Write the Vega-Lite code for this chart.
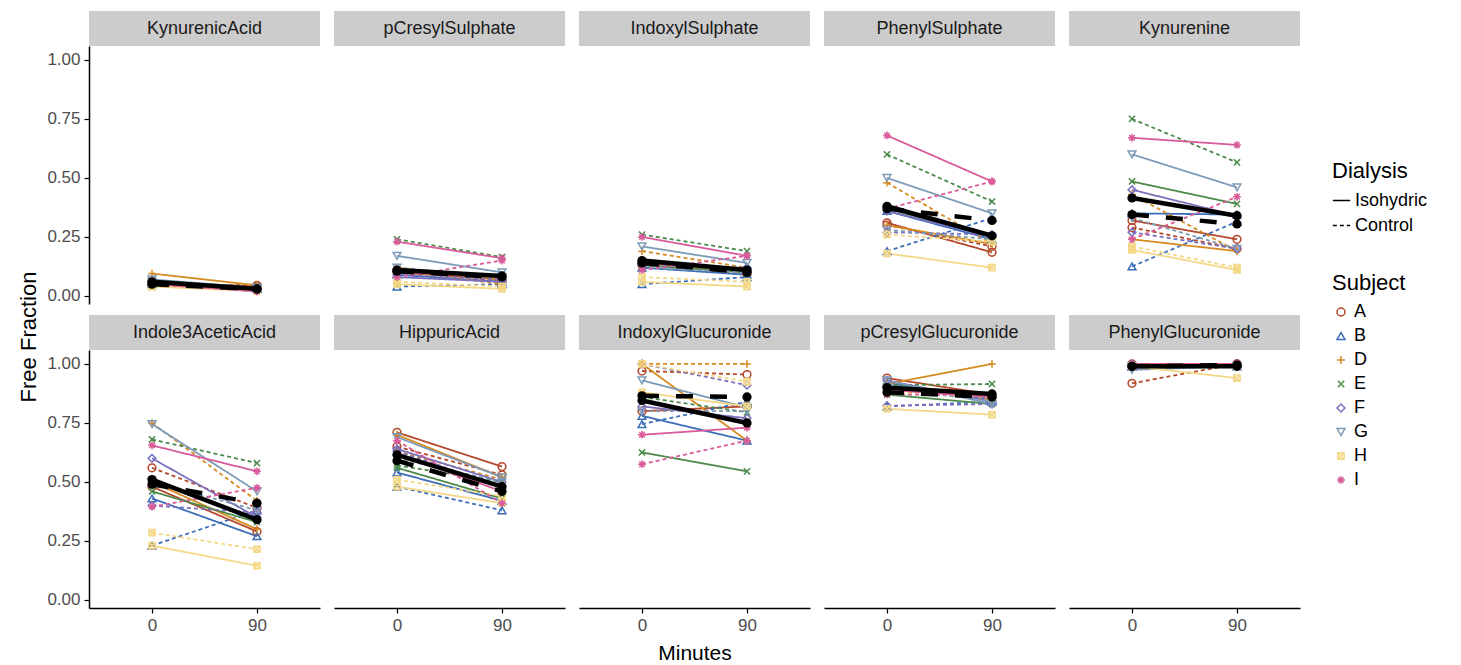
{
"$schema":"https://vega.github.io/schema/vega-lite/v6.json",
"padding":{"left":17,"top":11,"right":5,"bottom":5},
"background":"white",
"title":{"text":"Free Fraction","orient":"left","anchor":"middle","fontSize":22,"fontWeight":"normal","font":"Liberation Sans","color":"black","offset":6},
"config":{
 "view":{"stroke":null},
 "font":"Liberation Sans",
 "axis":{"grid":false,"domainColor":"black","domainWidth":1.5,"tickColor":"black","tickWidth":1.2,"tickSize":5,"labelFontSize":17,"labelColor":"#4d4d4d","labelFont":"Liberation Sans","titleFont":"Liberation Sans","titleFontSize":21,"titleFontWeight":"normal","titleColor":"black","labelPadding":4},
 "axisX":{"labelAngle":0,"titlePadding":9},
 "legend":{"titleFontSize":22,"titleFontWeight":"normal","titleFont":"Liberation Sans","labelFont":"Liberation Sans","labelFontSize":18,"labelColor":"black","titleColor":"black","rowPadding":6,"titlePadding":8}
},
"datasets":{
"names":[{"metab":"KynurenicAcid"},{"metab":"pCresylSulphate"},{"metab":"IndoxylSulphate"},{"metab":"PhenylSulphate"},{"metab":"Kynurenine"},{"metab":"Indole3AceticAcid"},{"metab":"HippuricAcid"},{"metab":"IndoxylGlucuronide"},{"metab":"pCresylGlucuronide"},{"metab":"PhenylGlucuronide"}],
"means":[
{"metab":"KynurenicAcid","dialysis":"Isohydric","minutes":0,"ff":0.06},{"metab":"KynurenicAcid","dialysis":"Isohydric","minutes":90,"ff":0.03},{"metab":"KynurenicAcid","dialysis":"Control","minutes":0,"ff":0.05},{"metab":"KynurenicAcid","dialysis":"Control","minutes":90,"ff":0.03},
{"metab":"pCresylSulphate","dialysis":"Isohydric","minutes":0,"ff":0.11},{"metab":"pCresylSulphate","dialysis":"Isohydric","minutes":90,"ff":0.085},{"metab":"pCresylSulphate","dialysis":"Control","minutes":0,"ff":0.105},{"metab":"pCresylSulphate","dialysis":"Control","minutes":90,"ff":0.08},
{"metab":"IndoxylSulphate","dialysis":"Isohydric","minutes":0,"ff":0.15},{"metab":"IndoxylSulphate","dialysis":"Isohydric","minutes":90,"ff":0.11},{"metab":"IndoxylSulphate","dialysis":"Control","minutes":0,"ff":0.14},{"metab":"IndoxylSulphate","dialysis":"Control","minutes":90,"ff":0.10},
{"metab":"PhenylSulphate","dialysis":"Isohydric","minutes":0,"ff":0.38},{"metab":"PhenylSulphate","dialysis":"Isohydric","minutes":90,"ff":0.255},{"metab":"PhenylSulphate","dialysis":"Control","minutes":0,"ff":0.37},{"metab":"PhenylSulphate","dialysis":"Control","minutes":90,"ff":0.32},
{"metab":"Kynurenine","dialysis":"Isohydric","minutes":0,"ff":0.415},{"metab":"Kynurenine","dialysis":"Isohydric","minutes":90,"ff":0.34},{"metab":"Kynurenine","dialysis":"Control","minutes":0,"ff":0.345},{"metab":"Kynurenine","dialysis":"Control","minutes":90,"ff":0.305},
{"metab":"Indole3AceticAcid","dialysis":"Isohydric","minutes":0,"ff":0.51},{"metab":"Indole3AceticAcid","dialysis":"Isohydric","minutes":90,"ff":0.34},{"metab":"Indole3AceticAcid","dialysis":"Control","minutes":0,"ff":0.49},{"metab":"Indole3AceticAcid","dialysis":"Control","minutes":90,"ff":0.41},
{"metab":"HippuricAcid","dialysis":"Isohydric","minutes":0,"ff":0.615},{"metab":"HippuricAcid","dialysis":"Isohydric","minutes":90,"ff":0.48},{"metab":"HippuricAcid","dialysis":"Control","minutes":0,"ff":0.59},{"metab":"HippuricAcid","dialysis":"Control","minutes":90,"ff":0.46},
{"metab":"IndoxylGlucuronide","dialysis":"Isohydric","minutes":0,"ff":0.845},{"metab":"IndoxylGlucuronide","dialysis":"Isohydric","minutes":90,"ff":0.75},{"metab":"IndoxylGlucuronide","dialysis":"Control","minutes":0,"ff":0.865},{"metab":"IndoxylGlucuronide","dialysis":"Control","minutes":90,"ff":0.86},
{"metab":"pCresylGlucuronide","dialysis":"Isohydric","minutes":0,"ff":0.90},{"metab":"pCresylGlucuronide","dialysis":"Isohydric","minutes":90,"ff":0.873},{"metab":"pCresylGlucuronide","dialysis":"Control","minutes":0,"ff":0.88},{"metab":"pCresylGlucuronide","dialysis":"Control","minutes":90,"ff":0.86},
{"metab":"PhenylGlucuronide","dialysis":"Isohydric","minutes":0,"ff":0.99},{"metab":"PhenylGlucuronide","dialysis":"Isohydric","minutes":90,"ff":0.99},{"metab":"PhenylGlucuronide","dialysis":"Control","minutes":0,"ff":0.99},{"metab":"PhenylGlucuronide","dialysis":"Control","minutes":90,"ff":0.995}
],
"subj":[
{"metab":"KynurenicAcid","subject":"A","dialysis":"Isohydric","minutes":0,"ff":0.06},{"metab":"KynurenicAcid","subject":"A","dialysis":"Isohydric","minutes":90,"ff":0.04},{"metab":"KynurenicAcid","subject":"A","dialysis":"Control","minutes":0,"ff":0.05},{"metab":"KynurenicAcid","subject":"A","dialysis":"Control","minutes":90,"ff":0.045},
{"metab":"KynurenicAcid","subject":"B","dialysis":"Isohydric","minutes":0,"ff":0.05},{"metab":"KynurenicAcid","subject":"B","dialysis":"Isohydric","minutes":90,"ff":0.03},{"metab":"KynurenicAcid","subject":"B","dialysis":"Control","minutes":0,"ff":0.06},{"metab":"KynurenicAcid","subject":"B","dialysis":"Control","minutes":90,"ff":0.03},
{"metab":"KynurenicAcid","subject":"D","dialysis":"Isohydric","minutes":0,"ff":0.095},{"metab":"KynurenicAcid","subject":"D","dialysis":"Isohydric","minutes":90,"ff":0.045},{"metab":"KynurenicAcid","subject":"D","dialysis":"Control","minutes":0,"ff":0.05},{"metab":"KynurenicAcid","subject":"D","dialysis":"Control","minutes":90,"ff":0.03},
{"metab":"KynurenicAcid","subject":"E","dialysis":"Isohydric","minutes":0,"ff":0.06},{"metab":"KynurenicAcid","subject":"E","dialysis":"Isohydric","minutes":90,"ff":0.03},{"metab":"KynurenicAcid","subject":"E","dialysis":"Control","minutes":0,"ff":0.05},{"metab":"KynurenicAcid","subject":"E","dialysis":"Control","minutes":90,"ff":0.03},
{"metab":"KynurenicAcid","subject":"F","dialysis":"Isohydric","minutes":0,"ff":0.06},{"metab":"KynurenicAcid","subject":"F","dialysis":"Isohydric","minutes":90,"ff":0.03},{"metab":"KynurenicAcid","subject":"F","dialysis":"Control","minutes":0,"ff":0.05},{"metab":"KynurenicAcid","subject":"F","dialysis":"Control","minutes":90,"ff":0.03},
{"metab":"KynurenicAcid","subject":"G","dialysis":"Isohydric","minutes":0,"ff":0.07},{"metab":"KynurenicAcid","subject":"G","dialysis":"Isohydric","minutes":90,"ff":0.035},{"metab":"KynurenicAcid","subject":"G","dialysis":"Control","minutes":0,"ff":0.06},{"metab":"KynurenicAcid","subject":"G","dialysis":"Control","minutes":90,"ff":0.03},
{"metab":"KynurenicAcid","subject":"H","dialysis":"Isohydric","minutes":0,"ff":0.04},{"metab":"KynurenicAcid","subject":"H","dialysis":"Isohydric","minutes":90,"ff":0.02},{"metab":"KynurenicAcid","subject":"H","dialysis":"Control","minutes":0,"ff":0.04},{"metab":"KynurenicAcid","subject":"H","dialysis":"Control","minutes":90,"ff":0.025},
{"metab":"KynurenicAcid","subject":"I","dialysis":"Isohydric","minutes":0,"ff":0.05},{"metab":"KynurenicAcid","subject":"I","dialysis":"Isohydric","minutes":90,"ff":0.02},{"metab":"KynurenicAcid","subject":"I","dialysis":"Control","minutes":0,"ff":0.05},{"metab":"KynurenicAcid","subject":"I","dialysis":"Control","minutes":90,"ff":0.02},

{"metab":"pCresylSulphate","subject":"A","dialysis":"Isohydric","minutes":0,"ff":0.10},{"metab":"pCresylSulphate","subject":"A","dialysis":"Isohydric","minutes":90,"ff":0.07},{"metab":"pCresylSulphate","subject":"A","dialysis":"Control","minutes":0,"ff":0.11},{"metab":"pCresylSulphate","subject":"A","dialysis":"Control","minutes":90,"ff":0.06},
{"metab":"pCresylSulphate","subject":"B","dialysis":"Isohydric","minutes":0,"ff":0.09},{"metab":"pCresylSulphate","subject":"B","dialysis":"Isohydric","minutes":90,"ff":0.06},{"metab":"pCresylSulphate","subject":"B","dialysis":"Control","minutes":0,"ff":0.04},{"metab":"pCresylSulphate","subject":"B","dialysis":"Control","minutes":90,"ff":0.05},
{"metab":"pCresylSulphate","subject":"D","dialysis":"Isohydric","minutes":0,"ff":0.12},{"metab":"pCresylSulphate","subject":"D","dialysis":"Isohydric","minutes":90,"ff":0.07},{"metab":"pCresylSulphate","subject":"D","dialysis":"Control","minutes":0,"ff":0.11},{"metab":"pCresylSulphate","subject":"D","dialysis":"Control","minutes":90,"ff":0.05},
{"metab":"pCresylSulphate","subject":"E","dialysis":"Isohydric","minutes":0,"ff":0.11},{"metab":"pCresylSulphate","subject":"E","dialysis":"Isohydric","minutes":90,"ff":0.08},{"metab":"pCresylSulphate","subject":"E","dialysis":"Control","minutes":0,"ff":0.24},{"metab":"pCresylSulphate","subject":"E","dialysis":"Control","minutes":90,"ff":0.165},
{"metab":"pCresylSulphate","subject":"F","dialysis":"Isohydric","minutes":0,"ff":0.08},{"metab":"pCresylSulphate","subject":"F","dialysis":"Isohydric","minutes":90,"ff":0.06},{"metab":"pCresylSulphate","subject":"F","dialysis":"Control","minutes":0,"ff":0.09},{"metab":"pCresylSulphate","subject":"F","dialysis":"Control","minutes":90,"ff":0.07},
{"metab":"pCresylSulphate","subject":"G","dialysis":"Isohydric","minutes":0,"ff":0.17},{"metab":"pCresylSulphate","subject":"G","dialysis":"Isohydric","minutes":90,"ff":0.10},{"metab":"pCresylSulphate","subject":"G","dialysis":"Control","minutes":0,"ff":0.12},{"metab":"pCresylSulphate","subject":"G","dialysis":"Control","minutes":90,"ff":0.08},
{"metab":"pCresylSulphate","subject":"H","dialysis":"Isohydric","minutes":0,"ff":0.05},{"metab":"pCresylSulphate","subject":"H","dialysis":"Isohydric","minutes":90,"ff":0.03},{"metab":"pCresylSulphate","subject":"H","dialysis":"Control","minutes":0,"ff":0.06},{"metab":"pCresylSulphate","subject":"H","dialysis":"Control","minutes":90,"ff":0.04},
{"metab":"pCresylSulphate","subject":"I","dialysis":"Isohydric","minutes":0,"ff":0.23},{"metab":"pCresylSulphate","subject":"I","dialysis":"Isohydric","minutes":90,"ff":0.16},{"metab":"pCresylSulphate","subject":"I","dialysis":"Control","minutes":0,"ff":0.08},{"metab":"pCresylSulphate","subject":"I","dialysis":"Control","minutes":90,"ff":0.15},

{"metab":"IndoxylSulphate","subject":"A","dialysis":"Isohydric","minutes":0,"ff":0.14},{"metab":"IndoxylSulphate","subject":"A","dialysis":"Isohydric","minutes":90,"ff":0.10},{"metab":"IndoxylSulphate","subject":"A","dialysis":"Control","minutes":0,"ff":0.13},{"metab":"IndoxylSulphate","subject":"A","dialysis":"Control","minutes":90,"ff":0.09},
{"metab":"IndoxylSulphate","subject":"B","dialysis":"Isohydric","minutes":0,"ff":0.12},{"metab":"IndoxylSulphate","subject":"B","dialysis":"Isohydric","minutes":90,"ff":0.09},{"metab":"IndoxylSulphate","subject":"B","dialysis":"Control","minutes":0,"ff":0.05},{"metab":"IndoxylSulphate","subject":"B","dialysis":"Control","minutes":90,"ff":0.08},
{"metab":"IndoxylSulphate","subject":"D","dialysis":"Isohydric","minutes":0,"ff":0.15},{"metab":"IndoxylSulphate","subject":"D","dialysis":"Isohydric","minutes":90,"ff":0.10},{"metab":"IndoxylSulphate","subject":"D","dialysis":"Control","minutes":0,"ff":0.19},{"metab":"IndoxylSulphate","subject":"D","dialysis":"Control","minutes":90,"ff":0.12},
{"metab":"IndoxylSulphate","subject":"E","dialysis":"Isohydric","minutes":0,"ff":0.13},{"metab":"IndoxylSulphate","subject":"E","dialysis":"Isohydric","minutes":90,"ff":0.10},{"metab":"IndoxylSulphate","subject":"E","dialysis":"Control","minutes":0,"ff":0.26},{"metab":"IndoxylSulphate","subject":"E","dialysis":"Control","minutes":90,"ff":0.19},
{"metab":"IndoxylSulphate","subject":"F","dialysis":"Isohydric","minutes":0,"ff":0.15},{"metab":"IndoxylSulphate","subject":"F","dialysis":"Isohydric","minutes":90,"ff":0.11},{"metab":"IndoxylSulphate","subject":"F","dialysis":"Control","minutes":0,"ff":0.13},{"metab":"IndoxylSulphate","subject":"F","dialysis":"Control","minutes":90,"ff":0.12},
{"metab":"IndoxylSulphate","subject":"G","dialysis":"Isohydric","minutes":0,"ff":0.21},{"metab":"IndoxylSulphate","subject":"G","dialysis":"Isohydric","minutes":90,"ff":0.14},{"metab":"IndoxylSulphate","subject":"G","dialysis":"Control","minutes":0,"ff":0.12},{"metab":"IndoxylSulphate","subject":"G","dialysis":"Control","minutes":90,"ff":0.10},
{"metab":"IndoxylSulphate","subject":"H","dialysis":"Isohydric","minutes":0,"ff":0.06},{"metab":"IndoxylSulphate","subject":"H","dialysis":"Isohydric","minutes":90,"ff":0.04},{"metab":"IndoxylSulphate","subject":"H","dialysis":"Control","minutes":0,"ff":0.08},{"metab":"IndoxylSulphate","subject":"H","dialysis":"Control","minutes":90,"ff":0.06},
{"metab":"IndoxylSulphate","subject":"I","dialysis":"Isohydric","minutes":0,"ff":0.25},{"metab":"IndoxylSulphate","subject":"I","dialysis":"Isohydric","minutes":90,"ff":0.17},{"metab":"IndoxylSulphate","subject":"I","dialysis":"Control","minutes":0,"ff":0.11},{"metab":"IndoxylSulphate","subject":"I","dialysis":"Control","minutes":90,"ff":0.17},

{"metab":"PhenylSulphate","subject":"A","dialysis":"Isohydric","minutes":0,"ff":0.31},{"metab":"PhenylSulphate","subject":"A","dialysis":"Isohydric","minutes":90,"ff":0.185},{"metab":"PhenylSulphate","subject":"A","dialysis":"Control","minutes":0,"ff":0.30},{"metab":"PhenylSulphate","subject":"A","dialysis":"Control","minutes":90,"ff":0.21},
{"metab":"PhenylSulphate","subject":"B","dialysis":"Isohydric","minutes":0,"ff":0.36},{"metab":"PhenylSulphate","subject":"B","dialysis":"Isohydric","minutes":90,"ff":0.24},{"metab":"PhenylSulphate","subject":"B","dialysis":"Control","minutes":0,"ff":0.19},{"metab":"PhenylSulphate","subject":"B","dialysis":"Control","minutes":90,"ff":0.33},
{"metab":"PhenylSulphate","subject":"D","dialysis":"Isohydric","minutes":0,"ff":0.30},{"metab":"PhenylSulphate","subject":"D","dialysis":"Isohydric","minutes":90,"ff":0.22},{"metab":"PhenylSulphate","subject":"D","dialysis":"Control","minutes":0,"ff":0.48},{"metab":"PhenylSulphate","subject":"D","dialysis":"Control","minutes":90,"ff":0.22},
{"metab":"PhenylSulphate","subject":"E","dialysis":"Isohydric","minutes":0,"ff":0.37},{"metab":"PhenylSulphate","subject":"E","dialysis":"Isohydric","minutes":90,"ff":0.25},{"metab":"PhenylSulphate","subject":"E","dialysis":"Control","minutes":0,"ff":0.60},{"metab":"PhenylSulphate","subject":"E","dialysis":"Control","minutes":90,"ff":0.40},
{"metab":"PhenylSulphate","subject":"F","dialysis":"Isohydric","minutes":0,"ff":0.36},{"metab":"PhenylSulphate","subject":"F","dialysis":"Isohydric","minutes":90,"ff":0.25},{"metab":"PhenylSulphate","subject":"F","dialysis":"Control","minutes":0,"ff":0.27},{"metab":"PhenylSulphate","subject":"F","dialysis":"Control","minutes":90,"ff":0.26},
{"metab":"PhenylSulphate","subject":"G","dialysis":"Isohydric","minutes":0,"ff":0.50},{"metab":"PhenylSulphate","subject":"G","dialysis":"Isohydric","minutes":90,"ff":0.35},{"metab":"PhenylSulphate","subject":"G","dialysis":"Control","minutes":0,"ff":0.28},{"metab":"PhenylSulphate","subject":"G","dialysis":"Control","minutes":90,"ff":0.24},
{"metab":"PhenylSulphate","subject":"H","dialysis":"Isohydric","minutes":0,"ff":0.18},{"metab":"PhenylSulphate","subject":"H","dialysis":"Isohydric","minutes":90,"ff":0.12},{"metab":"PhenylSulphate","subject":"H","dialysis":"Control","minutes":0,"ff":0.26},{"metab":"PhenylSulphate","subject":"H","dialysis":"Control","minutes":90,"ff":0.23},
{"metab":"PhenylSulphate","subject":"I","dialysis":"Isohydric","minutes":0,"ff":0.68},{"metab":"PhenylSulphate","subject":"I","dialysis":"Isohydric","minutes":90,"ff":0.485},{"metab":"PhenylSulphate","subject":"I","dialysis":"Control","minutes":0,"ff":0.37},{"metab":"PhenylSulphate","subject":"I","dialysis":"Control","minutes":90,"ff":0.485},

{"metab":"Kynurenine","subject":"A","dialysis":"Isohydric","minutes":0,"ff":0.32},{"metab":"Kynurenine","subject":"A","dialysis":"Isohydric","minutes":90,"ff":0.24},{"metab":"Kynurenine","subject":"A","dialysis":"Control","minutes":0,"ff":0.29},{"metab":"Kynurenine","subject":"A","dialysis":"Control","minutes":90,"ff":0.20},
{"metab":"Kynurenine","subject":"B","dialysis":"Isohydric","minutes":0,"ff":0.35},{"metab":"Kynurenine","subject":"B","dialysis":"Isohydric","minutes":90,"ff":0.345},{"metab":"Kynurenine","subject":"B","dialysis":"Control","minutes":0,"ff":0.125},{"metab":"Kynurenine","subject":"B","dialysis":"Control","minutes":90,"ff":0.315},
{"metab":"Kynurenine","subject":"D","dialysis":"Isohydric","minutes":0,"ff":0.24},{"metab":"Kynurenine","subject":"D","dialysis":"Isohydric","minutes":90,"ff":0.19},{"metab":"Kynurenine","subject":"D","dialysis":"Control","minutes":0,"ff":0.43},{"metab":"Kynurenine","subject":"D","dialysis":"Control","minutes":90,"ff":0.19},
{"metab":"Kynurenine","subject":"E","dialysis":"Isohydric","minutes":0,"ff":0.485},{"metab":"Kynurenine","subject":"E","dialysis":"Isohydric","minutes":90,"ff":0.39},{"metab":"Kynurenine","subject":"E","dialysis":"Control","minutes":0,"ff":0.75},{"metab":"Kynurenine","subject":"E","dialysis":"Control","minutes":90,"ff":0.566},
{"metab":"Kynurenine","subject":"F","dialysis":"Isohydric","minutes":0,"ff":0.45},{"metab":"Kynurenine","subject":"F","dialysis":"Isohydric","minutes":90,"ff":0.34},{"metab":"Kynurenine","subject":"F","dialysis":"Control","minutes":0,"ff":0.27},{"metab":"Kynurenine","subject":"F","dialysis":"Control","minutes":90,"ff":0.20},
{"metab":"Kynurenine","subject":"G","dialysis":"Isohydric","minutes":0,"ff":0.60},{"metab":"Kynurenine","subject":"G","dialysis":"Isohydric","minutes":90,"ff":0.46},{"metab":"Kynurenine","subject":"G","dialysis":"Control","minutes":0,"ff":0.33},{"metab":"Kynurenine","subject":"G","dialysis":"Control","minutes":90,"ff":0.20},
{"metab":"Kynurenine","subject":"H","dialysis":"Isohydric","minutes":0,"ff":0.195},{"metab":"Kynurenine","subject":"H","dialysis":"Isohydric","minutes":90,"ff":0.11},{"metab":"Kynurenine","subject":"H","dialysis":"Control","minutes":0,"ff":0.21},{"metab":"Kynurenine","subject":"H","dialysis":"Control","minutes":90,"ff":0.12},
{"metab":"Kynurenine","subject":"I","dialysis":"Isohydric","minutes":0,"ff":0.67},{"metab":"Kynurenine","subject":"I","dialysis":"Isohydric","minutes":90,"ff":0.64},{"metab":"Kynurenine","subject":"I","dialysis":"Control","minutes":0,"ff":0.24},{"metab":"Kynurenine","subject":"I","dialysis":"Control","minutes":90,"ff":0.42},

{"metab":"Indole3AceticAcid","subject":"A","dialysis":"Isohydric","minutes":0,"ff":0.48},{"metab":"Indole3AceticAcid","subject":"A","dialysis":"Isohydric","minutes":90,"ff":0.29},{"metab":"Indole3AceticAcid","subject":"A","dialysis":"Control","minutes":0,"ff":0.56},{"metab":"Indole3AceticAcid","subject":"A","dialysis":"Control","minutes":90,"ff":0.39},
{"metab":"Indole3AceticAcid","subject":"B","dialysis":"Isohydric","minutes":0,"ff":0.43},{"metab":"Indole3AceticAcid","subject":"B","dialysis":"Isohydric","minutes":90,"ff":0.27},{"metab":"Indole3AceticAcid","subject":"B","dialysis":"Control","minutes":0,"ff":0.23},{"metab":"Indole3AceticAcid","subject":"B","dialysis":"Control","minutes":90,"ff":0.38},
{"metab":"Indole3AceticAcid","subject":"D","dialysis":"Isohydric","minutes":0,"ff":0.50},{"metab":"Indole3AceticAcid","subject":"D","dialysis":"Isohydric","minutes":90,"ff":0.30},{"metab":"Indole3AceticAcid","subject":"D","dialysis":"Control","minutes":0,"ff":0.75},{"metab":"Indole3AceticAcid","subject":"D","dialysis":"Control","minutes":90,"ff":0.42},
{"metab":"Indole3AceticAcid","subject":"E","dialysis":"Isohydric","minutes":0,"ff":0.46},{"metab":"Indole3AceticAcid","subject":"E","dialysis":"Isohydric","minutes":90,"ff":0.33},{"metab":"Indole3AceticAcid","subject":"E","dialysis":"Control","minutes":0,"ff":0.68},{"metab":"Indole3AceticAcid","subject":"E","dialysis":"Control","minutes":90,"ff":0.58},
{"metab":"Indole3AceticAcid","subject":"F","dialysis":"Isohydric","minutes":0,"ff":0.60},{"metab":"Indole3AceticAcid","subject":"F","dialysis":"Isohydric","minutes":90,"ff":0.35},{"metab":"Indole3AceticAcid","subject":"F","dialysis":"Control","minutes":0,"ff":0.40},{"metab":"Indole3AceticAcid","subject":"F","dialysis":"Control","minutes":90,"ff":0.37},
{"metab":"Indole3AceticAcid","subject":"G","dialysis":"Isohydric","minutes":0,"ff":0.745},{"metab":"Indole3AceticAcid","subject":"G","dialysis":"Isohydric","minutes":90,"ff":0.46},{"metab":"Indole3AceticAcid","subject":"G","dialysis":"Control","minutes":0,"ff":0.50},{"metab":"Indole3AceticAcid","subject":"G","dialysis":"Control","minutes":90,"ff":0.38},
{"metab":"Indole3AceticAcid","subject":"H","dialysis":"Isohydric","minutes":0,"ff":0.23},{"metab":"Indole3AceticAcid","subject":"H","dialysis":"Isohydric","minutes":90,"ff":0.145},{"metab":"Indole3AceticAcid","subject":"H","dialysis":"Control","minutes":0,"ff":0.285},{"metab":"Indole3AceticAcid","subject":"H","dialysis":"Control","minutes":90,"ff":0.215},
{"metab":"Indole3AceticAcid","subject":"I","dialysis":"Isohydric","minutes":0,"ff":0.655},{"metab":"Indole3AceticAcid","subject":"I","dialysis":"Isohydric","minutes":90,"ff":0.545},{"metab":"Indole3AceticAcid","subject":"I","dialysis":"Control","minutes":0,"ff":0.395},{"metab":"Indole3AceticAcid","subject":"I","dialysis":"Control","minutes":90,"ff":0.475},

{"metab":"HippuricAcid","subject":"A","dialysis":"Isohydric","minutes":0,"ff":0.71},{"metab":"HippuricAcid","subject":"A","dialysis":"Isohydric","minutes":90,"ff":0.565},{"metab":"HippuricAcid","subject":"A","dialysis":"Control","minutes":0,"ff":0.65},{"metab":"HippuricAcid","subject":"A","dialysis":"Control","minutes":90,"ff":0.53},
{"metab":"HippuricAcid","subject":"B","dialysis":"Isohydric","minutes":0,"ff":0.54},{"metab":"HippuricAcid","subject":"B","dialysis":"Isohydric","minutes":90,"ff":0.42},{"metab":"HippuricAcid","subject":"B","dialysis":"Control","minutes":0,"ff":0.48},{"metab":"HippuricAcid","subject":"B","dialysis":"Control","minutes":90,"ff":0.38},
{"metab":"HippuricAcid","subject":"D","dialysis":"Isohydric","minutes":0,"ff":0.70},{"metab":"HippuricAcid","subject":"D","dialysis":"Isohydric","minutes":90,"ff":0.52},{"metab":"HippuricAcid","subject":"D","dialysis":"Control","minutes":0,"ff":0.63},{"metab":"HippuricAcid","subject":"D","dialysis":"Control","minutes":90,"ff":0.51},
{"metab":"HippuricAcid","subject":"E","dialysis":"Isohydric","minutes":0,"ff":0.56},{"metab":"HippuricAcid","subject":"E","dialysis":"Isohydric","minutes":90,"ff":0.43},{"metab":"HippuricAcid","subject":"E","dialysis":"Control","minutes":0,"ff":0.57},{"metab":"HippuricAcid","subject":"E","dialysis":"Control","minutes":90,"ff":0.50},
{"metab":"HippuricAcid","subject":"F","dialysis":"Isohydric","minutes":0,"ff":0.64},{"metab":"HippuricAcid","subject":"F","dialysis":"Isohydric","minutes":90,"ff":0.50},{"metab":"HippuricAcid","subject":"F","dialysis":"Control","minutes":0,"ff":0.63},{"metab":"HippuricAcid","subject":"F","dialysis":"Control","minutes":90,"ff":0.48},
{"metab":"HippuricAcid","subject":"G","dialysis":"Isohydric","minutes":0,"ff":0.69},{"metab":"HippuricAcid","subject":"G","dialysis":"Isohydric","minutes":90,"ff":0.52},{"metab":"HippuricAcid","subject":"G","dialysis":"Control","minutes":0,"ff":0.60},{"metab":"HippuricAcid","subject":"G","dialysis":"Control","minutes":90,"ff":0.50},
{"metab":"HippuricAcid","subject":"H","dialysis":"Isohydric","minutes":0,"ff":0.48},{"metab":"HippuricAcid","subject":"H","dialysis":"Isohydric","minutes":90,"ff":0.41},{"metab":"HippuricAcid","subject":"H","dialysis":"Control","minutes":0,"ff":0.51},{"metab":"HippuricAcid","subject":"H","dialysis":"Control","minutes":90,"ff":0.44},
{"metab":"HippuricAcid","subject":"I","dialysis":"Isohydric","minutes":0,"ff":0.62},{"metab":"HippuricAcid","subject":"I","dialysis":"Isohydric","minutes":90,"ff":0.46},{"metab":"HippuricAcid","subject":"I","dialysis":"Control","minutes":0,"ff":0.675},{"metab":"HippuricAcid","subject":"I","dialysis":"Control","minutes":90,"ff":0.41},

{"metab":"IndoxylGlucuronide","subject":"A","dialysis":"Isohydric","minutes":0,"ff":0.80},{"metab":"IndoxylGlucuronide","subject":"A","dialysis":"Isohydric","minutes":90,"ff":0.82},{"metab":"IndoxylGlucuronide","subject":"A","dialysis":"Control","minutes":0,"ff":0.97},{"metab":"IndoxylGlucuronide","subject":"A","dialysis":"Control","minutes":90,"ff":0.955},
{"metab":"IndoxylGlucuronide","subject":"B","dialysis":"Isohydric","minutes":0,"ff":0.78},{"metab":"IndoxylGlucuronide","subject":"B","dialysis":"Isohydric","minutes":90,"ff":0.675},{"metab":"IndoxylGlucuronide","subject":"B","dialysis":"Control","minutes":0,"ff":0.745},{"metab":"IndoxylGlucuronide","subject":"B","dialysis":"Control","minutes":90,"ff":0.84},
{"metab":"IndoxylGlucuronide","subject":"D","dialysis":"Isohydric","minutes":0,"ff":1.0},{"metab":"IndoxylGlucuronide","subject":"D","dialysis":"Isohydric","minutes":90,"ff":0.675},{"metab":"IndoxylGlucuronide","subject":"D","dialysis":"Control","minutes":0,"ff":1.0},{"metab":"IndoxylGlucuronide","subject":"D","dialysis":"Control","minutes":90,"ff":1.0},
{"metab":"IndoxylGlucuronide","subject":"E","dialysis":"Isohydric","minutes":0,"ff":0.625},{"metab":"IndoxylGlucuronide","subject":"E","dialysis":"Isohydric","minutes":90,"ff":0.545},{"metab":"IndoxylGlucuronide","subject":"E","dialysis":"Control","minutes":0,"ff":0.86},{"metab":"IndoxylGlucuronide","subject":"E","dialysis":"Control","minutes":90,"ff":0.795},
{"metab":"IndoxylGlucuronide","subject":"F","dialysis":"Isohydric","minutes":0,"ff":0.82},{"metab":"IndoxylGlucuronide","subject":"F","dialysis":"Isohydric","minutes":90,"ff":0.77},{"metab":"IndoxylGlucuronide","subject":"F","dialysis":"Control","minutes":0,"ff":1.0},{"metab":"IndoxylGlucuronide","subject":"F","dialysis":"Control","minutes":90,"ff":0.91},
{"metab":"IndoxylGlucuronide","subject":"G","dialysis":"Isohydric","minutes":0,"ff":0.93},{"metab":"IndoxylGlucuronide","subject":"G","dialysis":"Isohydric","minutes":90,"ff":0.815},{"metab":"IndoxylGlucuronide","subject":"G","dialysis":"Control","minutes":0,"ff":0.80},{"metab":"IndoxylGlucuronide","subject":"G","dialysis":"Control","minutes":90,"ff":0.80},
{"metab":"IndoxylGlucuronide","subject":"H","dialysis":"Isohydric","minutes":0,"ff":0.88},{"metab":"IndoxylGlucuronide","subject":"H","dialysis":"Isohydric","minutes":90,"ff":0.82},{"metab":"IndoxylGlucuronide","subject":"H","dialysis":"Control","minutes":0,"ff":1.0},{"metab":"IndoxylGlucuronide","subject":"H","dialysis":"Control","minutes":90,"ff":0.925},
{"metab":"IndoxylGlucuronide","subject":"I","dialysis":"Isohydric","minutes":0,"ff":0.70},{"metab":"IndoxylGlucuronide","subject":"I","dialysis":"Isohydric","minutes":90,"ff":0.73},{"metab":"IndoxylGlucuronide","subject":"I","dialysis":"Control","minutes":0,"ff":0.575},{"metab":"IndoxylGlucuronide","subject":"I","dialysis":"Control","minutes":90,"ff":0.675},

{"metab":"pCresylGlucuronide","subject":"A","dialysis":"Isohydric","minutes":0,"ff":0.94},{"metab":"pCresylGlucuronide","subject":"A","dialysis":"Isohydric","minutes":90,"ff":0.87},{"metab":"pCresylGlucuronide","subject":"A","dialysis":"Control","minutes":0,"ff":0.90},{"metab":"pCresylGlucuronide","subject":"A","dialysis":"Control","minutes":90,"ff":0.86},
{"metab":"pCresylGlucuronide","subject":"B","dialysis":"Isohydric","minutes":0,"ff":0.92},{"metab":"pCresylGlucuronide","subject":"B","dialysis":"Isohydric","minutes":90,"ff":0.85},{"metab":"pCresylGlucuronide","subject":"B","dialysis":"Control","minutes":0,"ff":0.82},{"metab":"pCresylGlucuronide","subject":"B","dialysis":"Control","minutes":90,"ff":0.84},
{"metab":"pCresylGlucuronide","subject":"D","dialysis":"Isohydric","minutes":0,"ff":0.915},{"metab":"pCresylGlucuronide","subject":"D","dialysis":"Isohydric","minutes":90,"ff":1.0},{"metab":"pCresylGlucuronide","subject":"D","dialysis":"Control","minutes":0,"ff":0.89},{"metab":"pCresylGlucuronide","subject":"D","dialysis":"Control","minutes":90,"ff":0.85},
{"metab":"pCresylGlucuronide","subject":"E","dialysis":"Isohydric","minutes":0,"ff":0.87},{"metab":"pCresylGlucuronide","subject":"E","dialysis":"Isohydric","minutes":90,"ff":0.83},{"metab":"pCresylGlucuronide","subject":"E","dialysis":"Control","minutes":0,"ff":0.91},{"metab":"pCresylGlucuronide","subject":"E","dialysis":"Control","minutes":90,"ff":0.915},
{"metab":"pCresylGlucuronide","subject":"F","dialysis":"Isohydric","minutes":0,"ff":0.93},{"metab":"pCresylGlucuronide","subject":"F","dialysis":"Isohydric","minutes":90,"ff":0.84},{"metab":"pCresylGlucuronide","subject":"F","dialysis":"Control","minutes":0,"ff":0.823},{"metab":"pCresylGlucuronide","subject":"F","dialysis":"Control","minutes":90,"ff":0.83},
{"metab":"pCresylGlucuronide","subject":"G","dialysis":"Isohydric","minutes":0,"ff":0.93},{"metab":"pCresylGlucuronide","subject":"G","dialysis":"Isohydric","minutes":90,"ff":0.83},{"metab":"pCresylGlucuronide","subject":"G","dialysis":"Control","minutes":0,"ff":0.90},{"metab":"pCresylGlucuronide","subject":"G","dialysis":"Control","minutes":90,"ff":0.84},
{"metab":"pCresylGlucuronide","subject":"H","dialysis":"Isohydric","minutes":0,"ff":0.81},{"metab":"pCresylGlucuronide","subject":"H","dialysis":"Isohydric","minutes":90,"ff":0.785},{"metab":"pCresylGlucuronide","subject":"H","dialysis":"Control","minutes":0,"ff":0.88},{"metab":"pCresylGlucuronide","subject":"H","dialysis":"Control","minutes":90,"ff":0.86},
{"metab":"pCresylGlucuronide","subject":"I","dialysis":"Isohydric","minutes":0,"ff":0.89},{"metab":"pCresylGlucuronide","subject":"I","dialysis":"Isohydric","minutes":90,"ff":0.86},{"metab":"pCresylGlucuronide","subject":"I","dialysis":"Control","minutes":0,"ff":0.87},{"metab":"pCresylGlucuronide","subject":"I","dialysis":"Control","minutes":90,"ff":0.87},

{"metab":"PhenylGlucuronide","subject":"A","dialysis":"Isohydric","minutes":0,"ff":1.0},{"metab":"PhenylGlucuronide","subject":"A","dialysis":"Isohydric","minutes":90,"ff":1.0},{"metab":"PhenylGlucuronide","subject":"A","dialysis":"Control","minutes":0,"ff":0.918},{"metab":"PhenylGlucuronide","subject":"A","dialysis":"Control","minutes":90,"ff":1.0},
{"metab":"PhenylGlucuronide","subject":"B","dialysis":"Isohydric","minutes":0,"ff":0.99},{"metab":"PhenylGlucuronide","subject":"B","dialysis":"Isohydric","minutes":90,"ff":0.99},{"metab":"PhenylGlucuronide","subject":"B","dialysis":"Control","minutes":0,"ff":0.99},{"metab":"PhenylGlucuronide","subject":"B","dialysis":"Control","minutes":90,"ff":1.0},
{"metab":"PhenylGlucuronide","subject":"D","dialysis":"Isohydric","minutes":0,"ff":1.0},{"metab":"PhenylGlucuronide","subject":"D","dialysis":"Isohydric","minutes":90,"ff":1.0},{"metab":"PhenylGlucuronide","subject":"D","dialysis":"Control","minutes":0,"ff":0.99},{"metab":"PhenylGlucuronide","subject":"D","dialysis":"Control","minutes":90,"ff":1.0},
{"metab":"PhenylGlucuronide","subject":"E","dialysis":"Isohydric","minutes":0,"ff":0.99},{"metab":"PhenylGlucuronide","subject":"E","dialysis":"Isohydric","minutes":90,"ff":0.99},{"metab":"PhenylGlucuronide","subject":"E","dialysis":"Control","minutes":0,"ff":1.0},{"metab":"PhenylGlucuronide","subject":"E","dialysis":"Control","minutes":90,"ff":0.99},
{"metab":"PhenylGlucuronide","subject":"F","dialysis":"Isohydric","minutes":0,"ff":1.0},{"metab":"PhenylGlucuronide","subject":"F","dialysis":"Isohydric","minutes":90,"ff":0.99},{"metab":"PhenylGlucuronide","subject":"F","dialysis":"Control","minutes":0,"ff":0.99},{"metab":"PhenylGlucuronide","subject":"F","dialysis":"Control","minutes":90,"ff":1.0},
{"metab":"PhenylGlucuronide","subject":"G","dialysis":"Isohydric","minutes":0,"ff":0.975},{"metab":"PhenylGlucuronide","subject":"G","dialysis":"Isohydric","minutes":90,"ff":0.99},{"metab":"PhenylGlucuronide","subject":"G","dialysis":"Control","minutes":0,"ff":0.99},{"metab":"PhenylGlucuronide","subject":"G","dialysis":"Control","minutes":90,"ff":0.99},
{"metab":"PhenylGlucuronide","subject":"H","dialysis":"Isohydric","minutes":0,"ff":0.99},{"metab":"PhenylGlucuronide","subject":"H","dialysis":"Isohydric","minutes":90,"ff":0.94},{"metab":"PhenylGlucuronide","subject":"H","dialysis":"Control","minutes":0,"ff":0.99},{"metab":"PhenylGlucuronide","subject":"H","dialysis":"Control","minutes":90,"ff":0.99},
{"metab":"PhenylGlucuronide","subject":"I","dialysis":"Isohydric","minutes":0,"ff":1.0},{"metab":"PhenylGlucuronide","subject":"I","dialysis":"Isohydric","minutes":90,"ff":1.0},{"metab":"PhenylGlucuronide","subject":"I","dialysis":"Control","minutes":0,"ff":0.995},{"metab":"PhenylGlucuronide","subject":"I","dialysis":"Control","minutes":90,"ff":0.99}
]
},
"spacing":11,
"vconcat":[
{"spacing":14,"hconcat":[
 {"bounds":"flush","spacing":0,"vconcat":[
  {"width":231,"height":35,"view":{"fill":"#cccccc","stroke":null},"data":{"name":"names"},"transform":[{"filter":"datum.metab=='KynurenicAcid'"}],"mark":{"type":"text","fontSize":18,"font":"Liberation Sans","color":"#1a1a1a"},"encoding":{"text":{"field":"metab"}}},
  {"width":231,"height":258,
   "encoding":{"x":{"field":"minutes","type":"ordinal","scale":{"type":"point","padding":0.6},"axis":null},"y":{"field":"ff","type":"quantitative","scale":{"domain":[-0.034,1.059],"nice":false,"zero":false},"axis":{"title":null,"values":[0,0.25,0.5,0.75,1],"format":".2f"}}},
   "layer":[
    {"data":{"name":"subj"},"transform":[{"filter":"datum.metab=='KynurenicAcid'"}],"mark":{"type":"line","strokeWidth":1.8},"encoding":{"color":{"field":"subject","type":"nominal","title":"Subject","scale":{"domain":["A","B","D","E","F","G","H","I"],"range":["#b5472b","#3b6db8","#d68b22","#4b8a4b","#7b6fbe","#7d9bb7","#f4d886","#d95b9a"]},"legend":{"orient":"none","legendX":1243,"legendY":262,"symbolSize":64,"symbolStrokeWidth":1.5}},"strokeDash":{"field":"dialysis","type":"nominal","title":"Dialysis","scale":{"domain":["Isohydric","Control"],"range":[[1,0],[4,3]]},"legend":{"orient":"none","legendX":1243,"legendY":150,"symbolType":"stroke","symbolStrokeColor":"black","symbolStrokeWidth":1.5,"symbolSize":300}}}},
    {"data":{"name":"subj"},"transform":[{"filter":"datum.metab=='KynurenicAcid'"}],"mark":{"type":"point","filled":false,"strokeWidth":1.5,"size":60,"opacity":1},"encoding":{"color":{"field":"subject","type":"nominal","title":"Subject","scale":{"domain":["A","B","D","E","F","G","H","I"],"range":["#b5472b","#3b6db8","#d68b22","#4b8a4b","#7b6fbe","#7d9bb7","#f4d886","#d95b9a"]}},"shape":{"field":"subject","type":"nominal","title":"Subject","scale":{"domain":["A","B","D","E","F","G","H","I"],"range":["circle","triangle-up","M-1,0H1M0,-1V1","M-0.8,-0.8L0.8,0.8M-0.8,0.8L0.8,-0.8","diamond","triangle-down","M-0.8,-0.8H0.8V0.8H-0.8ZM-0.8,-0.8L0.8,0.8M-0.8,0.8L0.8,-0.8","M-1,0H1M0,-1V1M-0.7,-0.7L0.7,0.7M-0.7,0.7L0.7,-0.7"]}}}},
    {"data":{"name":"means"},"transform":[{"filter":"datum.metab=='KynurenicAcid' && datum.dialysis=='Isohydric'"}],"mark":{"type":"line","color":"black","strokeWidth":4.5},"encoding":{}},
    {"data":{"name":"means"},"transform":[{"filter":"datum.metab=='KynurenicAcid' && datum.dialysis=='Control'"}],"mark":{"type":"line","color":"black","strokeWidth":4.5,"strokeDash":[17,17]},"encoding":{}},
    {"data":{"name":"means"},"transform":[{"filter":"datum.metab=='KynurenicAcid'"}],"mark":{"type":"point","filled":true,"color":"black","size":85,"opacity":1},"encoding":{}}
   ]}
 ]},
 {"bounds":"flush","spacing":0,"vconcat":[
  {"width":231,"height":35,"view":{"fill":"#cccccc","stroke":null},"data":{"name":"names"},"transform":[{"filter":"datum.metab=='pCresylSulphate'"}],"mark":{"type":"text","fontSize":18,"font":"Liberation Sans","color":"#1a1a1a"},"encoding":{"text":{"field":"metab"}}},
  {"width":231,"height":258,
   "encoding":{"x":{"field":"minutes","type":"ordinal","scale":{"type":"point","padding":0.6},"axis":null},"y":{"field":"ff","type":"quantitative","scale":{"domain":[-0.034,1.059],"nice":false,"zero":false},"axis":null}},
   "layer":[
    {"data":{"name":"subj"},"transform":[{"filter":"datum.metab=='pCresylSulphate'"}],"mark":{"type":"line","strokeWidth":1.8},"encoding":{"color":{"field":"subject","type":"nominal","title":"Subject","scale":{"domain":["A","B","D","E","F","G","H","I"],"range":["#b5472b","#3b6db8","#d68b22","#4b8a4b","#7b6fbe","#7d9bb7","#f4d886","#d95b9a"]},"legend":{"orient":"none","legendX":1243,"legendY":262,"symbolSize":64,"symbolStrokeWidth":1.5}},"strokeDash":{"field":"dialysis","type":"nominal","title":"Dialysis","scale":{"domain":["Isohydric","Control"],"range":[[1,0],[4,3]]},"legend":{"orient":"none","legendX":1243,"legendY":150,"symbolType":"stroke","symbolStrokeColor":"black","symbolStrokeWidth":1.5,"symbolSize":300}}}},
    {"data":{"name":"subj"},"transform":[{"filter":"datum.metab=='pCresylSulphate'"}],"mark":{"type":"point","filled":false,"strokeWidth":1.5,"size":60,"opacity":1},"encoding":{"color":{"field":"subject","type":"nominal","title":"Subject","scale":{"domain":["A","B","D","E","F","G","H","I"],"range":["#b5472b","#3b6db8","#d68b22","#4b8a4b","#7b6fbe","#7d9bb7","#f4d886","#d95b9a"]}},"shape":{"field":"subject","type":"nominal","title":"Subject","scale":{"domain":["A","B","D","E","F","G","H","I"],"range":["circle","triangle-up","M-1,0H1M0,-1V1","M-0.8,-0.8L0.8,0.8M-0.8,0.8L0.8,-0.8","diamond","triangle-down","M-0.8,-0.8H0.8V0.8H-0.8ZM-0.8,-0.8L0.8,0.8M-0.8,0.8L0.8,-0.8","M-1,0H1M0,-1V1M-0.7,-0.7L0.7,0.7M-0.7,0.7L0.7,-0.7"]}}}},
    {"data":{"name":"means"},"transform":[{"filter":"datum.metab=='pCresylSulphate' && datum.dialysis=='Isohydric'"}],"mark":{"type":"line","color":"black","strokeWidth":4.5},"encoding":{}},
    {"data":{"name":"means"},"transform":[{"filter":"datum.metab=='pCresylSulphate' && datum.dialysis=='Control'"}],"mark":{"type":"line","color":"black","strokeWidth":4.5,"strokeDash":[17,17]},"encoding":{}},
    {"data":{"name":"means"},"transform":[{"filter":"datum.metab=='pCresylSulphate'"}],"mark":{"type":"point","filled":true,"color":"black","size":85,"opacity":1},"encoding":{}}
   ]}
 ]},
 {"bounds":"flush","spacing":0,"vconcat":[
  {"width":231,"height":35,"view":{"fill":"#cccccc","stroke":null},"data":{"name":"names"},"transform":[{"filter":"datum.metab=='IndoxylSulphate'"}],"mark":{"type":"text","fontSize":18,"font":"Liberation Sans","color":"#1a1a1a"},"encoding":{"text":{"field":"metab"}}},
  {"width":231,"height":258,
   "encoding":{"x":{"field":"minutes","type":"ordinal","scale":{"type":"point","padding":0.6},"axis":null},"y":{"field":"ff","type":"quantitative","scale":{"domain":[-0.034,1.059],"nice":false,"zero":false},"axis":null}},
   "layer":[
    {"data":{"name":"subj"},"transform":[{"filter":"datum.metab=='IndoxylSulphate'"}],"mark":{"type":"line","strokeWidth":1.8},"encoding":{"color":{"field":"subject","type":"nominal","title":"Subject","scale":{"domain":["A","B","D","E","F","G","H","I"],"range":["#b5472b","#3b6db8","#d68b22","#4b8a4b","#7b6fbe","#7d9bb7","#f4d886","#d95b9a"]},"legend":{"orient":"none","legendX":1243,"legendY":262,"symbolSize":64,"symbolStrokeWidth":1.5}},"strokeDash":{"field":"dialysis","type":"nominal","title":"Dialysis","scale":{"domain":["Isohydric","Control"],"range":[[1,0],[4,3]]},"legend":{"orient":"none","legendX":1243,"legendY":150,"symbolType":"stroke","symbolStrokeColor":"black","symbolStrokeWidth":1.5,"symbolSize":300}}}},
    {"data":{"name":"subj"},"transform":[{"filter":"datum.metab=='IndoxylSulphate'"}],"mark":{"type":"point","filled":false,"strokeWidth":1.5,"size":60,"opacity":1},"encoding":{"color":{"field":"subject","type":"nominal","title":"Subject","scale":{"domain":["A","B","D","E","F","G","H","I"],"range":["#b5472b","#3b6db8","#d68b22","#4b8a4b","#7b6fbe","#7d9bb7","#f4d886","#d95b9a"]}},"shape":{"field":"subject","type":"nominal","title":"Subject","scale":{"domain":["A","B","D","E","F","G","H","I"],"range":["circle","triangle-up","M-1,0H1M0,-1V1","M-0.8,-0.8L0.8,0.8M-0.8,0.8L0.8,-0.8","diamond","triangle-down","M-0.8,-0.8H0.8V0.8H-0.8ZM-0.8,-0.8L0.8,0.8M-0.8,0.8L0.8,-0.8","M-1,0H1M0,-1V1M-0.7,-0.7L0.7,0.7M-0.7,0.7L0.7,-0.7"]}}}},
    {"data":{"name":"means"},"transform":[{"filter":"datum.metab=='IndoxylSulphate' && datum.dialysis=='Isohydric'"}],"mark":{"type":"line","color":"black","strokeWidth":4.5},"encoding":{}},
    {"data":{"name":"means"},"transform":[{"filter":"datum.metab=='IndoxylSulphate' && datum.dialysis=='Control'"}],"mark":{"type":"line","color":"black","strokeWidth":4.5,"strokeDash":[17,17]},"encoding":{}},
    {"data":{"name":"means"},"transform":[{"filter":"datum.metab=='IndoxylSulphate'"}],"mark":{"type":"point","filled":true,"color":"black","size":85,"opacity":1},"encoding":{}}
   ]}
 ]},
 {"bounds":"flush","spacing":0,"vconcat":[
  {"width":231,"height":35,"view":{"fill":"#cccccc","stroke":null},"data":{"name":"names"},"transform":[{"filter":"datum.metab=='PhenylSulphate'"}],"mark":{"type":"text","fontSize":18,"font":"Liberation Sans","color":"#1a1a1a"},"encoding":{"text":{"field":"metab"}}},
  {"width":231,"height":258,
   "encoding":{"x":{"field":"minutes","type":"ordinal","scale":{"type":"point","padding":0.6},"axis":null},"y":{"field":"ff","type":"quantitative","scale":{"domain":[-0.034,1.059],"nice":false,"zero":false},"axis":null}},
   "layer":[
    {"data":{"name":"subj"},"transform":[{"filter":"datum.metab=='PhenylSulphate'"}],"mark":{"type":"line","strokeWidth":1.8},"encoding":{"color":{"field":"subject","type":"nominal","title":"Subject","scale":{"domain":["A","B","D","E","F","G","H","I"],"range":["#b5472b","#3b6db8","#d68b22","#4b8a4b","#7b6fbe","#7d9bb7","#f4d886","#d95b9a"]},"legend":{"orient":"none","legendX":1243,"legendY":262,"symbolSize":64,"symbolStrokeWidth":1.5}},"strokeDash":{"field":"dialysis","type":"nominal","title":"Dialysis","scale":{"domain":["Isohydric","Control"],"range":[[1,0],[4,3]]},"legend":{"orient":"none","legendX":1243,"legendY":150,"symbolType":"stroke","symbolStrokeColor":"black","symbolStrokeWidth":1.5,"symbolSize":300}}}},
    {"data":{"name":"subj"},"transform":[{"filter":"datum.metab=='PhenylSulphate'"}],"mark":{"type":"point","filled":false,"strokeWidth":1.5,"size":60,"opacity":1},"encoding":{"color":{"field":"subject","type":"nominal","title":"Subject","scale":{"domain":["A","B","D","E","F","G","H","I"],"range":["#b5472b","#3b6db8","#d68b22","#4b8a4b","#7b6fbe","#7d9bb7","#f4d886","#d95b9a"]}},"shape":{"field":"subject","type":"nominal","title":"Subject","scale":{"domain":["A","B","D","E","F","G","H","I"],"range":["circle","triangle-up","M-1,0H1M0,-1V1","M-0.8,-0.8L0.8,0.8M-0.8,0.8L0.8,-0.8","diamond","triangle-down","M-0.8,-0.8H0.8V0.8H-0.8ZM-0.8,-0.8L0.8,0.8M-0.8,0.8L0.8,-0.8","M-1,0H1M0,-1V1M-0.7,-0.7L0.7,0.7M-0.7,0.7L0.7,-0.7"]}}}},
    {"data":{"name":"means"},"transform":[{"filter":"datum.metab=='PhenylSulphate' && datum.dialysis=='Isohydric'"}],"mark":{"type":"line","color":"black","strokeWidth":4.5},"encoding":{}},
    {"data":{"name":"means"},"transform":[{"filter":"datum.metab=='PhenylSulphate' && datum.dialysis=='Control'"}],"mark":{"type":"line","color":"black","strokeWidth":4.5,"strokeDash":[17,17]},"encoding":{}},
    {"data":{"name":"means"},"transform":[{"filter":"datum.metab=='PhenylSulphate'"}],"mark":{"type":"point","filled":true,"color":"black","size":85,"opacity":1},"encoding":{}}
   ]}
 ]},
 {"bounds":"flush","spacing":0,"vconcat":[
  {"width":231,"height":35,"view":{"fill":"#cccccc","stroke":null},"data":{"name":"names"},"transform":[{"filter":"datum.metab=='Kynurenine'"}],"mark":{"type":"text","fontSize":18,"font":"Liberation Sans","color":"#1a1a1a"},"encoding":{"text":{"field":"metab"}}},
  {"width":231,"height":258,
   "encoding":{"x":{"field":"minutes","type":"ordinal","scale":{"type":"point","padding":0.6},"axis":null},"y":{"field":"ff","type":"quantitative","scale":{"domain":[-0.034,1.059],"nice":false,"zero":false},"axis":null}},
   "layer":[
    {"data":{"name":"subj"},"transform":[{"filter":"datum.metab=='Kynurenine'"}],"mark":{"type":"line","strokeWidth":1.8},"encoding":{"color":{"field":"subject","type":"nominal","title":"Subject","scale":{"domain":["A","B","D","E","F","G","H","I"],"range":["#b5472b","#3b6db8","#d68b22","#4b8a4b","#7b6fbe","#7d9bb7","#f4d886","#d95b9a"]},"legend":{"orient":"none","legendX":1243,"legendY":262,"symbolSize":64,"symbolStrokeWidth":1.5}},"strokeDash":{"field":"dialysis","type":"nominal","title":"Dialysis","scale":{"domain":["Isohydric","Control"],"range":[[1,0],[4,3]]},"legend":{"orient":"none","legendX":1243,"legendY":150,"symbolType":"stroke","symbolStrokeColor":"black","symbolStrokeWidth":1.5,"symbolSize":300}}}},
    {"data":{"name":"subj"},"transform":[{"filter":"datum.metab=='Kynurenine'"}],"mark":{"type":"point","filled":false,"strokeWidth":1.5,"size":60,"opacity":1},"encoding":{"color":{"field":"subject","type":"nominal","title":"Subject","scale":{"domain":["A","B","D","E","F","G","H","I"],"range":["#b5472b","#3b6db8","#d68b22","#4b8a4b","#7b6fbe","#7d9bb7","#f4d886","#d95b9a"]}},"shape":{"field":"subject","type":"nominal","title":"Subject","scale":{"domain":["A","B","D","E","F","G","H","I"],"range":["circle","triangle-up","M-1,0H1M0,-1V1","M-0.8,-0.8L0.8,0.8M-0.8,0.8L0.8,-0.8","diamond","triangle-down","M-0.8,-0.8H0.8V0.8H-0.8ZM-0.8,-0.8L0.8,0.8M-0.8,0.8L0.8,-0.8","M-1,0H1M0,-1V1M-0.7,-0.7L0.7,0.7M-0.7,0.7L0.7,-0.7"]}}}},
    {"data":{"name":"means"},"transform":[{"filter":"datum.metab=='Kynurenine' && datum.dialysis=='Isohydric'"}],"mark":{"type":"line","color":"black","strokeWidth":4.5},"encoding":{}},
    {"data":{"name":"means"},"transform":[{"filter":"datum.metab=='Kynurenine' && datum.dialysis=='Control'"}],"mark":{"type":"line","color":"black","strokeWidth":4.5,"strokeDash":[17,17]},"encoding":{}},
    {"data":{"name":"means"},"transform":[{"filter":"datum.metab=='Kynurenine'"}],"mark":{"type":"point","filled":true,"color":"black","size":85,"opacity":1},"encoding":{}}
   ]}
 ]}
]},
{"spacing":14,"hconcat":[
 {"bounds":"flush","spacing":0,"vconcat":[
  {"width":231,"height":35,"view":{"fill":"#cccccc","stroke":null},"data":{"name":"names"},"transform":[{"filter":"datum.metab=='Indole3AceticAcid'"}],"mark":{"type":"text","fontSize":18,"font":"Liberation Sans","color":"#1a1a1a"},"encoding":{"text":{"field":"metab"}}},
  {"width":231,"height":258,
   "encoding":{"x":{"field":"minutes","type":"ordinal","scale":{"type":"point","padding":0.6},"axis":{"title":null}},"y":{"field":"ff","type":"quantitative","scale":{"domain":[-0.034,1.059],"nice":false,"zero":false},"axis":{"title":null,"values":[0,0.25,0.5,0.75,1],"format":".2f"}}},
   "layer":[
    {"data":{"name":"subj"},"transform":[{"filter":"datum.metab=='Indole3AceticAcid'"}],"mark":{"type":"line","strokeWidth":1.8},"encoding":{"color":{"field":"subject","type":"nominal","title":"Subject","scale":{"domain":["A","B","D","E","F","G","H","I"],"range":["#b5472b","#3b6db8","#d68b22","#4b8a4b","#7b6fbe","#7d9bb7","#f4d886","#d95b9a"]},"legend":{"orient":"none","legendX":1243,"legendY":262,"symbolSize":64,"symbolStrokeWidth":1.5}},"strokeDash":{"field":"dialysis","type":"nominal","title":"Dialysis","scale":{"domain":["Isohydric","Control"],"range":[[1,0],[4,3]]},"legend":{"orient":"none","legendX":1243,"legendY":150,"symbolType":"stroke","symbolStrokeColor":"black","symbolStrokeWidth":1.5,"symbolSize":300}}}},
    {"data":{"name":"subj"},"transform":[{"filter":"datum.metab=='Indole3AceticAcid'"}],"mark":{"type":"point","filled":false,"strokeWidth":1.5,"size":60,"opacity":1},"encoding":{"color":{"field":"subject","type":"nominal","title":"Subject","scale":{"domain":["A","B","D","E","F","G","H","I"],"range":["#b5472b","#3b6db8","#d68b22","#4b8a4b","#7b6fbe","#7d9bb7","#f4d886","#d95b9a"]}},"shape":{"field":"subject","type":"nominal","title":"Subject","scale":{"domain":["A","B","D","E","F","G","H","I"],"range":["circle","triangle-up","M-1,0H1M0,-1V1","M-0.8,-0.8L0.8,0.8M-0.8,0.8L0.8,-0.8","diamond","triangle-down","M-0.8,-0.8H0.8V0.8H-0.8ZM-0.8,-0.8L0.8,0.8M-0.8,0.8L0.8,-0.8","M-1,0H1M0,-1V1M-0.7,-0.7L0.7,0.7M-0.7,0.7L0.7,-0.7"]}}}},
    {"data":{"name":"means"},"transform":[{"filter":"datum.metab=='Indole3AceticAcid' && datum.dialysis=='Isohydric'"}],"mark":{"type":"line","color":"black","strokeWidth":4.5},"encoding":{}},
    {"data":{"name":"means"},"transform":[{"filter":"datum.metab=='Indole3AceticAcid' && datum.dialysis=='Control'"}],"mark":{"type":"line","color":"black","strokeWidth":4.5,"strokeDash":[17,17]},"encoding":{}},
    {"data":{"name":"means"},"transform":[{"filter":"datum.metab=='Indole3AceticAcid'"}],"mark":{"type":"point","filled":true,"color":"black","size":85,"opacity":1},"encoding":{}}
   ]}
 ]},
 {"bounds":"flush","spacing":0,"vconcat":[
  {"width":231,"height":35,"view":{"fill":"#cccccc","stroke":null},"data":{"name":"names"},"transform":[{"filter":"datum.metab=='HippuricAcid'"}],"mark":{"type":"text","fontSize":18,"font":"Liberation Sans","color":"#1a1a1a"},"encoding":{"text":{"field":"metab"}}},
  {"width":231,"height":258,
   "encoding":{"x":{"field":"minutes","type":"ordinal","scale":{"type":"point","padding":0.6},"axis":{"title":null}},"y":{"field":"ff","type":"quantitative","scale":{"domain":[-0.034,1.059],"nice":false,"zero":false},"axis":null}},
   "layer":[
    {"data":{"name":"subj"},"transform":[{"filter":"datum.metab=='HippuricAcid'"}],"mark":{"type":"line","strokeWidth":1.8},"encoding":{"color":{"field":"subject","type":"nominal","title":"Subject","scale":{"domain":["A","B","D","E","F","G","H","I"],"range":["#b5472b","#3b6db8","#d68b22","#4b8a4b","#7b6fbe","#7d9bb7","#f4d886","#d95b9a"]},"legend":{"orient":"none","legendX":1243,"legendY":262,"symbolSize":64,"symbolStrokeWidth":1.5}},"strokeDash":{"field":"dialysis","type":"nominal","title":"Dialysis","scale":{"domain":["Isohydric","Control"],"range":[[1,0],[4,3]]},"legend":{"orient":"none","legendX":1243,"legendY":150,"symbolType":"stroke","symbolStrokeColor":"black","symbolStrokeWidth":1.5,"symbolSize":300}}}},
    {"data":{"name":"subj"},"transform":[{"filter":"datum.metab=='HippuricAcid'"}],"mark":{"type":"point","filled":false,"strokeWidth":1.5,"size":60,"opacity":1},"encoding":{"color":{"field":"subject","type":"nominal","title":"Subject","scale":{"domain":["A","B","D","E","F","G","H","I"],"range":["#b5472b","#3b6db8","#d68b22","#4b8a4b","#7b6fbe","#7d9bb7","#f4d886","#d95b9a"]}},"shape":{"field":"subject","type":"nominal","title":"Subject","scale":{"domain":["A","B","D","E","F","G","H","I"],"range":["circle","triangle-up","M-1,0H1M0,-1V1","M-0.8,-0.8L0.8,0.8M-0.8,0.8L0.8,-0.8","diamond","triangle-down","M-0.8,-0.8H0.8V0.8H-0.8ZM-0.8,-0.8L0.8,0.8M-0.8,0.8L0.8,-0.8","M-1,0H1M0,-1V1M-0.7,-0.7L0.7,0.7M-0.7,0.7L0.7,-0.7"]}}}},
    {"data":{"name":"means"},"transform":[{"filter":"datum.metab=='HippuricAcid' && datum.dialysis=='Isohydric'"}],"mark":{"type":"line","color":"black","strokeWidth":4.5},"encoding":{}},
    {"data":{"name":"means"},"transform":[{"filter":"datum.metab=='HippuricAcid' && datum.dialysis=='Control'"}],"mark":{"type":"line","color":"black","strokeWidth":4.5,"strokeDash":[17,17]},"encoding":{}},
    {"data":{"name":"means"},"transform":[{"filter":"datum.metab=='HippuricAcid'"}],"mark":{"type":"point","filled":true,"color":"black","size":85,"opacity":1},"encoding":{}}
   ]}
 ]},
 {"bounds":"flush","spacing":0,"vconcat":[
  {"width":231,"height":35,"view":{"fill":"#cccccc","stroke":null},"data":{"name":"names"},"transform":[{"filter":"datum.metab=='IndoxylGlucuronide'"}],"mark":{"type":"text","fontSize":18,"font":"Liberation Sans","color":"#1a1a1a"},"encoding":{"text":{"field":"metab"}}},
  {"width":231,"height":258,
   "encoding":{"x":{"field":"minutes","type":"ordinal","scale":{"type":"point","padding":0.6},"axis":{"title":"Minutes"}},"y":{"field":"ff","type":"quantitative","scale":{"domain":[-0.034,1.059],"nice":false,"zero":false},"axis":null}},
   "layer":[
    {"data":{"name":"subj"},"transform":[{"filter":"datum.metab=='IndoxylGlucuronide'"}],"mark":{"type":"line","strokeWidth":1.8},"encoding":{"color":{"field":"subject","type":"nominal","title":"Subject","scale":{"domain":["A","B","D","E","F","G","H","I"],"range":["#b5472b","#3b6db8","#d68b22","#4b8a4b","#7b6fbe","#7d9bb7","#f4d886","#d95b9a"]},"legend":{"orient":"none","legendX":1243,"legendY":262,"symbolSize":64,"symbolStrokeWidth":1.5}},"strokeDash":{"field":"dialysis","type":"nominal","title":"Dialysis","scale":{"domain":["Isohydric","Control"],"range":[[1,0],[4,3]]},"legend":{"orient":"none","legendX":1243,"legendY":150,"symbolType":"stroke","symbolStrokeColor":"black","symbolStrokeWidth":1.5,"symbolSize":300}}}},
    {"data":{"name":"subj"},"transform":[{"filter":"datum.metab=='IndoxylGlucuronide'"}],"mark":{"type":"point","filled":false,"strokeWidth":1.5,"size":60,"opacity":1},"encoding":{"color":{"field":"subject","type":"nominal","title":"Subject","scale":{"domain":["A","B","D","E","F","G","H","I"],"range":["#b5472b","#3b6db8","#d68b22","#4b8a4b","#7b6fbe","#7d9bb7","#f4d886","#d95b9a"]}},"shape":{"field":"subject","type":"nominal","title":"Subject","scale":{"domain":["A","B","D","E","F","G","H","I"],"range":["circle","triangle-up","M-1,0H1M0,-1V1","M-0.8,-0.8L0.8,0.8M-0.8,0.8L0.8,-0.8","diamond","triangle-down","M-0.8,-0.8H0.8V0.8H-0.8ZM-0.8,-0.8L0.8,0.8M-0.8,0.8L0.8,-0.8","M-1,0H1M0,-1V1M-0.7,-0.7L0.7,0.7M-0.7,0.7L0.7,-0.7"]}}}},
    {"data":{"name":"means"},"transform":[{"filter":"datum.metab=='IndoxylGlucuronide' && datum.dialysis=='Isohydric'"}],"mark":{"type":"line","color":"black","strokeWidth":4.5},"encoding":{}},
    {"data":{"name":"means"},"transform":[{"filter":"datum.metab=='IndoxylGlucuronide' && datum.dialysis=='Control'"}],"mark":{"type":"line","color":"black","strokeWidth":4.5,"strokeDash":[17,17]},"encoding":{}},
    {"data":{"name":"means"},"transform":[{"filter":"datum.metab=='IndoxylGlucuronide'"}],"mark":{"type":"point","filled":true,"color":"black","size":85,"opacity":1},"encoding":{}}
   ]}
 ]},
 {"bounds":"flush","spacing":0,"vconcat":[
  {"width":231,"height":35,"view":{"fill":"#cccccc","stroke":null},"data":{"name":"names"},"transform":[{"filter":"datum.metab=='pCresylGlucuronide'"}],"mark":{"type":"text","fontSize":18,"font":"Liberation Sans","color":"#1a1a1a"},"encoding":{"text":{"field":"metab"}}},
  {"width":231,"height":258,
   "encoding":{"x":{"field":"minutes","type":"ordinal","scale":{"type":"point","padding":0.6},"axis":{"title":null}},"y":{"field":"ff","type":"quantitative","scale":{"domain":[-0.034,1.059],"nice":false,"zero":false},"axis":null}},
   "layer":[
    {"data":{"name":"subj"},"transform":[{"filter":"datum.metab=='pCresylGlucuronide'"}],"mark":{"type":"line","strokeWidth":1.8},"encoding":{"color":{"field":"subject","type":"nominal","title":"Subject","scale":{"domain":["A","B","D","E","F","G","H","I"],"range":["#b5472b","#3b6db8","#d68b22","#4b8a4b","#7b6fbe","#7d9bb7","#f4d886","#d95b9a"]},"legend":{"orient":"none","legendX":1243,"legendY":262,"symbolSize":64,"symbolStrokeWidth":1.5}},"strokeDash":{"field":"dialysis","type":"nominal","title":"Dialysis","scale":{"domain":["Isohydric","Control"],"range":[[1,0],[4,3]]},"legend":{"orient":"none","legendX":1243,"legendY":150,"symbolType":"stroke","symbolStrokeColor":"black","symbolStrokeWidth":1.5,"symbolSize":300}}}},
    {"data":{"name":"subj"},"transform":[{"filter":"datum.metab=='pCresylGlucuronide'"}],"mark":{"type":"point","filled":false,"strokeWidth":1.5,"size":60,"opacity":1},"encoding":{"color":{"field":"subject","type":"nominal","title":"Subject","scale":{"domain":["A","B","D","E","F","G","H","I"],"range":["#b5472b","#3b6db8","#d68b22","#4b8a4b","#7b6fbe","#7d9bb7","#f4d886","#d95b9a"]}},"shape":{"field":"subject","type":"nominal","title":"Subject","scale":{"domain":["A","B","D","E","F","G","H","I"],"range":["circle","triangle-up","M-1,0H1M0,-1V1","M-0.8,-0.8L0.8,0.8M-0.8,0.8L0.8,-0.8","diamond","triangle-down","M-0.8,-0.8H0.8V0.8H-0.8ZM-0.8,-0.8L0.8,0.8M-0.8,0.8L0.8,-0.8","M-1,0H1M0,-1V1M-0.7,-0.7L0.7,0.7M-0.7,0.7L0.7,-0.7"]}}}},
    {"data":{"name":"means"},"transform":[{"filter":"datum.metab=='pCresylGlucuronide' && datum.dialysis=='Isohydric'"}],"mark":{"type":"line","color":"black","strokeWidth":4.5},"encoding":{}},
    {"data":{"name":"means"},"transform":[{"filter":"datum.metab=='pCresylGlucuronide' && datum.dialysis=='Control'"}],"mark":{"type":"line","color":"black","strokeWidth":4.5,"strokeDash":[17,17]},"encoding":{}},
    {"data":{"name":"means"},"transform":[{"filter":"datum.metab=='pCresylGlucuronide'"}],"mark":{"type":"point","filled":true,"color":"black","size":85,"opacity":1},"encoding":{}}
   ]}
 ]},
 {"bounds":"flush","spacing":0,"vconcat":[
  {"width":231,"height":35,"view":{"fill":"#cccccc","stroke":null},"data":{"name":"names"},"transform":[{"filter":"datum.metab=='PhenylGlucuronide'"}],"mark":{"type":"text","fontSize":18,"font":"Liberation Sans","color":"#1a1a1a"},"encoding":{"text":{"field":"metab"}}},
  {"width":231,"height":258,
   "encoding":{"x":{"field":"minutes","type":"ordinal","scale":{"type":"point","padding":0.6},"axis":{"title":null}},"y":{"field":"ff","type":"quantitative","scale":{"domain":[-0.034,1.059],"nice":false,"zero":false},"axis":null}},
   "layer":[
    {"data":{"name":"subj"},"transform":[{"filter":"datum.metab=='PhenylGlucuronide'"}],"mark":{"type":"line","strokeWidth":1.8},"encoding":{"color":{"field":"subject","type":"nominal","title":"Subject","scale":{"domain":["A","B","D","E","F","G","H","I"],"range":["#b5472b","#3b6db8","#d68b22","#4b8a4b","#7b6fbe","#7d9bb7","#f4d886","#d95b9a"]},"legend":{"orient":"none","legendX":1243,"legendY":262,"symbolSize":64,"symbolStrokeWidth":1.5}},"strokeDash":{"field":"dialysis","type":"nominal","title":"Dialysis","scale":{"domain":["Isohydric","Control"],"range":[[1,0],[4,3]]},"legend":{"orient":"none","legendX":1243,"legendY":150,"symbolType":"stroke","symbolStrokeColor":"black","symbolStrokeWidth":1.5,"symbolSize":300}}}},
    {"data":{"name":"subj"},"transform":[{"filter":"datum.metab=='PhenylGlucuronide'"}],"mark":{"type":"point","filled":false,"strokeWidth":1.5,"size":60,"opacity":1},"encoding":{"color":{"field":"subject","type":"nominal","title":"Subject","scale":{"domain":["A","B","D","E","F","G","H","I"],"range":["#b5472b","#3b6db8","#d68b22","#4b8a4b","#7b6fbe","#7d9bb7","#f4d886","#d95b9a"]}},"shape":{"field":"subject","type":"nominal","title":"Subject","scale":{"domain":["A","B","D","E","F","G","H","I"],"range":["circle","triangle-up","M-1,0H1M0,-1V1","M-0.8,-0.8L0.8,0.8M-0.8,0.8L0.8,-0.8","diamond","triangle-down","M-0.8,-0.8H0.8V0.8H-0.8ZM-0.8,-0.8L0.8,0.8M-0.8,0.8L0.8,-0.8","M-1,0H1M0,-1V1M-0.7,-0.7L0.7,0.7M-0.7,0.7L0.7,-0.7"]}}}},
    {"data":{"name":"means"},"transform":[{"filter":"datum.metab=='PhenylGlucuronide' && datum.dialysis=='Isohydric'"}],"mark":{"type":"line","color":"black","strokeWidth":4.5},"encoding":{}},
    {"data":{"name":"means"},"transform":[{"filter":"datum.metab=='PhenylGlucuronide' && datum.dialysis=='Control'"}],"mark":{"type":"line","color":"black","strokeWidth":4.5,"strokeDash":[17,17]},"encoding":{}},
    {"data":{"name":"means"},"transform":[{"filter":"datum.metab=='PhenylGlucuronide'"}],"mark":{"type":"point","filled":true,"color":"black","size":85,"opacity":1},"encoding":{}}
   ]}
 ]}
]}
]
}
